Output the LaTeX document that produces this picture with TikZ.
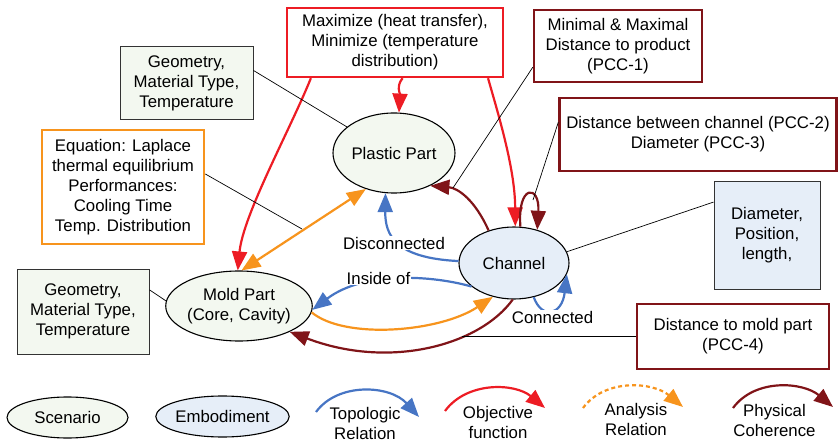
\documentclass[tikz,border=0pt]{standalone}
\usepackage{fontspec}
\setmainfont{Liberation Sans}
\usetikzlibrary{arrows.meta,shapes.geometric}

\definecolor{objred}{RGB}{237,28,36}
\definecolor{phybrown}{RGB}{128,20,24}
\definecolor{anaorange}{RGB}{247,148,29}
\definecolor{topoblue}{RGB}{71,117,196}
\definecolor{scenfill}{RGB}{243,248,240}
\definecolor{embofill}{RGB}{230,238,248}

\begin{document}
\begin{tikzpicture}[x=1pt,y=-1pt,
  every node/.style={font=\fontsize{16.8}{20}\selectfont, align=center},
  scen/.style={ellipse, draw=black, line width=1.1pt, fill=scenfill, inner sep=0pt},
  embo/.style={ellipse, draw=black, line width=1.1pt, fill=embofill, inner sep=0pt},
  attrS/.style={rectangle, draw=black!80, line width=1pt, fill=scenfill, inner sep=0pt},
  attrE/.style={rectangle, draw=black!80, line width=1pt, fill=embofill, inner sep=0pt},
  objbox/.style={rectangle, draw=objred, line width=2.4pt, fill=white, inner sep=0pt},
  phybox/.style={rectangle, draw=phybrown, line width=2.4pt, fill=white, inner sep=0pt},
  anabox/.style={rectangle, draw=anaorange, line width=2.6pt, fill=white, inner sep=0pt},
  tip/.style={-{Triangle[length=19pt,width=15pt]}},
  obj/.style={draw=objred, line width=2.2pt, tip},
  phy/.style={draw=phybrown, line width=2.2pt, tip},
  ana/.style={draw=anaorange, line width=2.2pt, tip},
  topo/.style={draw=topoblue, line width=2.2pt, tip},
  link/.style={draw=black, line width=0.7pt},
  lbl/.style={fill=white, inner sep=1pt},
]
\useasboundingbox (0,0) rectangle (839,441);

% scenario and embodiment nodes
\node[scen, minimum width=122pt, minimum height=80pt] (plastic) at (394,153) {Plastic Part};
\node[embo, minimum width=110pt, minimum height=72pt] (channel) at (514,263) {Channel};
\node[scen, minimum width=140pt, minimum height=70pt] (mold) at (239,306) {Mold Part\\(Core, Cavity)};

% attribute and constraint boxes
\node[attrS, minimum width=133pt, minimum height=73pt] (geoTop) at (186.5,83.5) {Geometry,\\Material Type,\\Temperature};
\node[attrS, minimum width=132pt, minimum height=85pt] (geoBot) at (83,311.5) {Geometry,\\Material Type,\\Temperature};
\node[anabox, minimum width=162pt, minimum height=114pt] (laplace) at (123,187) {Equation: Laplace\\thermal equilibrium\\Performances:\\Cooling Time\\Temp. Distribution};
\node[objbox, minimum width=216pt, minimum height=69pt] (goal) at (395,42.5) {Maximize (heat transfer),\\Minimize (temperature\\distribution)};
\node[phybox, minimum width=168pt, minimum height=72pt] (pcc1) at (618,46) {Minimal \& Maximal\\Distance to product\\(PCC-1)};
\node[phybox, minimum width=277pt, minimum height=73pt] (pcc23) at (698,134.5) {Distance between channel (PCC-2)\\Diameter (PCC-3)};
\node[attrE, minimum width=106pt, minimum height=107pt] (dims) at (767,235.5) {Diameter,\\Position,\\length,};
\node[phybox, minimum width=192pt, minimum height=65pt] (pcc4) at (733,336.5) {Distance to mold part\\(PCC-4)};

% objective function
\draw[obj] (goal.-157) .. controls (290,130) and (243,215) .. (mold.92);
\draw[obj] (goal.-78.5) .. controls (396,86) and (400,94) .. (plastic.83);
\draw[obj] (goal.-21.4) .. controls (500,120) and (515,170) .. (channel.88);

% physical coherence
\draw[phy] (channel.128) .. controls (475,200) and (458,188) .. (plastic.-42);
\draw[phy] (channel.80) .. controls (517,184) and (540,184) .. (channel.55);
\draw[phy] (channel.-92) .. controls (480,345) and (390,370) .. (mold.-27);

% analysis relations
\draw[ana, {Triangle[length=19pt,width=15pt]}-{Triangle[length=19pt,width=15pt]}] (mold.86) -- (plastic.-128);
\draw[ana] (mold.-5) .. controls (345,340) and (440,332) .. (channel.-122);

% topologic relations
\draw[topo] (channel.178) .. controls (395,258) and (385,235) .. (plastic.-102);
\draw[topo] (channel.-151) .. controls (435,276) and (365,270) .. (mold.-3);
\draw[topo] (channel.-60) .. controls (542,320) and (562,315) .. (channel.-12);

% free ends of the annotation leaders
\coordinate (lapTip) at (302,229);
\coordinate (pcc1Tip) at (453,188);
\coordinate (pcc23Tip) at (533,200);
\coordinate (pcc4Tip) at (462,336.5);

% annotation leaders
\draw[link] (geoTop.11) -- (plastic.151);
\draw[link] (laplace.9) -- (lapTip);
\draw[link] (pcc1.194) -- (pcc1Tip);
\draw[link] (pcc23.175) -- (pcc23Tip);
\draw[link] (dims.148) -- (channel.12);
\draw[link] (geoBot.18) -- (mold.176);
\draw[link] (pcc4.west) -- (pcc4Tip);

% relation labels
\node[lbl] (disc) at (394,243) {Disconnected};
\node[lbl] (inside) at (378.5,278) {Inside of};
\node[lbl] (conn) at (552.5,317) {Connected};

% legend
\node[scen, minimum width=121pt, minimum height=41pt] (legScen) at (67.5,417.5) {Scenario};
\node[embo, minimum width=121pt, minimum height=41pt] (legEmbo) at (222.5,416.5) {Embodiment};

\coordinate (topoA) at (316,412); \coordinate (topoB) at (419,417);
\coordinate (objA) at (445,411);  \coordinate (objB) at (545,408);
\coordinate (anaA) at (583,408);  \coordinate (anaB) at (683,407);
\coordinate (phyA) at (733,408);  \coordinate (phyB) at (833,407);

\draw[topo] (topoA) .. controls (338,382) and (390,385) .. (topoB);
\draw[obj] (objA) .. controls (467,381) and (515,383) .. (objB);
\draw[ana, dash pattern=on 4pt off 3pt] (anaA) .. controls (605,378) and (653,382) .. (anaB);
\draw[phy] (phyA) .. controls (755,378) and (803,382) .. (phyB);

\node (legTopo) at (365,423) {Topologic\\Relation};
\node (legObj) at (498,422) {Objective\\function};
\node (legAna) at (636,419.5) {Analysis\\Relation};
\node (legPhy) at (774.5,420) {Physical\\Coherence};
\end{tikzpicture}
\end{document}
